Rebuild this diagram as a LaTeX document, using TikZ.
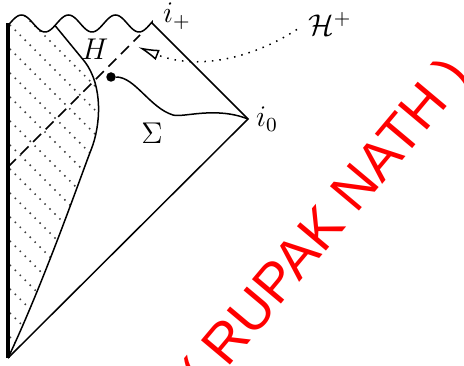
\documentclass[tikz,border=0pt]{standalone}
\usepackage{amsmath}
\usepackage{amssymb}
\usepackage{fontspec}
\usepackage{tikz}
\usetikzlibrary{arrows.meta, positioning}
\newfontfamily\wmfont{Liberation Sans}

\begin{document}
\begin{tikzpicture}[
    x=0.4pt, y=-0.4pt,
    edge/.style={line width=0.6pt},
    wall/.style={line width=1.4pt},
    hatch/.style={line width=0.6pt, dash pattern=on 0.6pt off 2.2pt, black!75},
    horizon/.style={line width=0.6pt, dash pattern=on 4.5pt off 2.6pt},
    pointer/.style={line width=0.6pt, dash pattern=on 0.6pt off 2.4pt, -{Latex[open, length=8.5pt, width=4.4pt]}},
    lab/.style={font=\large, inner sep=1pt},
    point/.style={circle, fill, inner sep=0pt, minimum size=3.8pt}
]
\useasboundingbox (0,0) rectangle (464,365);

\coordinate (bot)  at (8,358);
\coordinate (topl) at (8,23);
\coordinate (ip)   at (152,23);
\coordinate (io)   at (248,119);
\coordinate (c0)   at (55,25.5);
\coordinate (c1)   at (85,62);
\coordinate (c2)   at (91,150);

% shaded region behind the horizon curve
\begin{scope}
  \clip (bot) -- (topl) -- plot[domain=8:55, samples=30, smooth] (\x, {23.5+8.5*cos(7.6596*(\x-45))})
        -- (c1) .. controls (103,86) and (101,125) .. (c2)
        .. controls (83,170) and (45,280) .. (bot) -- cycle;
  \foreach \k in {-2,...,14}
    \draw[hatch] (0,{15+24*\k}) -- ++(220,220);
\end{scope}

% boundary of the diagram
\draw[edge] plot[domain=8:152, samples=120, smooth] (\x, {23.5+8.5*cos(7.6596*(\x-45))})
    -- (ip) -- (io) -- (bot);
\draw[wall] (bot) -- (topl);
\draw[edge] (c0) -- (c1) .. controls (103,86) and (101,125) .. (c2)
    .. controls (83,170) and (45,280) .. (bot);

% horizon
\coordinate (hl) at (8,167);
\coordinate (hr) at (140,35);
\draw[horizon] (hl) -- (hr);

% Cauchy surface
\node[point] (sig0) at (111,77) {};
\draw[edge] (sig0) .. controls (135,77) and (150,108) .. (173,115)
    .. controls (183,118) and (215,106) .. (io);

% labels
\node[lab] (hlab)   at (95,49)   {$H$};
\node[lab] (siglab) at (152,133) {$\Sigma$};
\node[lab] (iplab)  at (177,16)  {$i_+$};
\node[lab, right=2pt of io] (iolab) {$i_0$};
\node[lab] (hplus)  at (330,24)  {$\mathcal{H}^+$};

\coordinate (htip) at (138,47);
\draw[pointer, shorten <=4pt] (hplus.west) .. controls (250,60) and (195,70) .. (htip);

% watermark
\begin{scope}
  \clip (0,0) rectangle (464,365);
  \node[red, rotate=50, anchor=base, inner sep=0pt, font=\wmfont\fontsize{22}{22}\selectfont]
    (mark) at (339,236) {( RUPAK NATH )};
\end{scope}
\end{tikzpicture}
\end{document}
